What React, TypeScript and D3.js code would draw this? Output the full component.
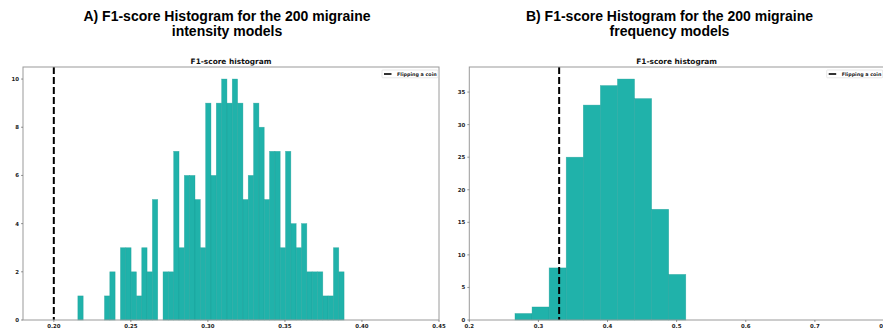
import React from "react";
import * as d3 from "d3";

// Histogram counts (200 models each)
const intensityCounts = [1, 0, 0, 0, 0, 1, 2, 0, 3, 3, 2, 1, 3, 2, 5, 0, 2, 2, 7, 3, 6, 6, 5, 3, 9, 6, 9, 10, 9, 10, 9, 5, 6, 9, 8, 5, 7, 7, 3, 7, 4, 3, 4, 2, 2, 2, 1, 1, 3, 2];
const intensityRange = [0.2156, 0.3884];
const intensityCoin = 0.2;
const intensityXTicks = [0.2, 0.25, 0.3, 0.35, 0.4, 0.45];
const intensityYTicks = [0, 2, 4, 6, 8, 10];

const frequencyCounts = [1, 2, 8, 25, 33, 36, 37, 34, 17, 7];
const frequencyRange = [0.2661, 0.5132];
const frequencyCoin = 0.33;
const frequencyXTicks = [0.2, 0.3, 0.4, 0.5, 0.6, 0.7, 0.8];
const frequencyYTicks = [0, 5, 10, 15, 20, 25, 30, 35];

const W = 883;
const H = 331;
const TICK_FONT = "'DejaVu Sans', sans-serif";
const TITLE_FONT = "'Liberation Sans', Arial, Helvetica, sans-serif";
const BAR_FILL = "#20b2aa";

type PanelProps = {
  title: [string, string];
  titleX: number;
  left: number;
  right: number;
  xDomain: [number, number];
  counts: number[];
  range: number[];
  coin: number;
  xTicks: number[];
  yTicks: number[];
  xFmt: string;
  legendX: number;
  legendW: number;
};

function Panel(p: PanelProps) {
  const top = 67;
  const bottom = 320;
  const x = d3.scaleLinear().domain(p.xDomain).range([p.left, p.right]);
  const yMax = d3.max(p.counts)! * 1.05;
  const y = d3.scaleLinear().domain([0, yMax]).range([bottom, top]);
  const n = p.counts.length;
  const step = (p.range[1] - p.range[0]) / n;
  const bins = p.counts.map((c, i) => ({
    x0: p.range[0] + i * step,
    x1: p.range[0] + (i + 1) * step,
    c,
  }));
  const fmt = d3.format(p.xFmt);
  const cx = (p.left + p.right) / 2;

  return (
    <g>
      <text x={p.titleX} y={20.5} textAnchor="middle" fontFamily={TITLE_FONT} fontWeight="bold" fontSize={14} fill="#000">
        {p.title[0]}
      </text>
      <text x={p.titleX} y={36} textAnchor="middle" fontFamily={TITLE_FONT} fontWeight="bold" fontSize={14} fill="#000">
        {p.title[1]}
      </text>
      <text x={cx} y={64} textAnchor="middle" fontFamily={TICK_FONT} fontWeight="bold" fontSize={7.4} fill="#111">
        F1-score histogram
      </text>

      {bins
        .filter((b) => b.c > 0)
        .map((b, i) => (
          <rect
            key={i}
            x={x(b.x0)}
            y={y(b.c)}
            width={x(b.x1) - x(b.x0)}
            height={bottom - y(b.c)}
            fill={BAR_FILL}
            stroke="#179a93"
            strokeOpacity={0.55}
            strokeWidth={0.6}
          />
        ))}

      <line x1={x(p.coin)} x2={x(p.coin)} y1={top} y2={bottom} stroke="#000" strokeWidth={2} strokeDasharray="7,3" />

      <rect x={p.left} y={top} width={p.right - p.left} height={bottom - top} fill="none" stroke="#9a9a9a" strokeWidth={1} />

      {p.xTicks.map((t) => (
        <g key={t}>
          <line x1={x(t)} x2={x(t)} y1={bottom} y2={bottom + 2} stroke="#555" strokeWidth={0.6} />
          <text x={x(t)} y={327.5} textAnchor="middle" fontFamily={TICK_FONT} fontWeight="bold" fontSize={5.4} fill="#222">
            {fmt(t)}
          </text>
        </g>
      ))}
      {p.yTicks.map((t) => (
        <g key={t}>
          <line x1={p.left - 2} x2={p.left} y1={y(t)} y2={y(t)} stroke="#555" strokeWidth={0.6} />
          <text x={p.left - 4} y={y(t)} dy="0.35em" textAnchor="end" fontFamily={TICK_FONT} fontWeight="bold" fontSize={5.4} fill="#222">
            {t}
          </text>
        </g>
      ))}

      <g>
        <rect x={p.legendX} y={70} width={p.legendW} height={7.8} fill="#fff" stroke="#d8d8d8" strokeWidth={0.6} rx={0.8} />
        <line x1={p.legendX + 2} x2={p.legendX + 9.5} y1={74} y2={74} stroke="#000" strokeWidth={1.6} />
        <text x={p.legendX + 15} y={74} dy="0.35em" fontFamily={TICK_FONT} fontWeight="bold" fontSize={4.8} fill="#222">
          Flipping a coin
        </text>
      </g>
    </g>
  );
}

export default function App() {
  return (
    <svg
      width={W}
      height={H}
      viewBox={`0 0 ${W} ${H}`}
      style={{ position: "absolute", left: 0, top: 0, background: "#fff", overflow: "hidden" }}
    >
      <rect width={W} height={H} fill="#fff" />
      <Panel
        title={["A) F1-score Histogram for the 200 migraine", "intensity models"]}
        titleX={227}
        left={23}
        right={439}
        xDomain={[0.18, 0.45]}
        counts={intensityCounts}
        range={intensityRange}
        coin={intensityCoin}
        xTicks={intensityXTicks}
        yTicks={intensityYTicks}
        xFmt=".2f"
        legendX={382}
        legendW={56}
      />
      <Panel
        title={["B) F1-score Histogram for the 200 migraine", "frequency models"]}
        titleX={669.5}
        left={469.3}
        right={884}
        xDomain={[0.2, 0.8]}
        counts={frequencyCounts}
        range={frequencyRange}
        coin={frequencyCoin}
        xTicks={frequencyXTicks}
        yTicks={frequencyYTicks}
        xFmt=".1f"
        legendX={826.7}
        legendW={56}
      />
    </svg>
  );
}
